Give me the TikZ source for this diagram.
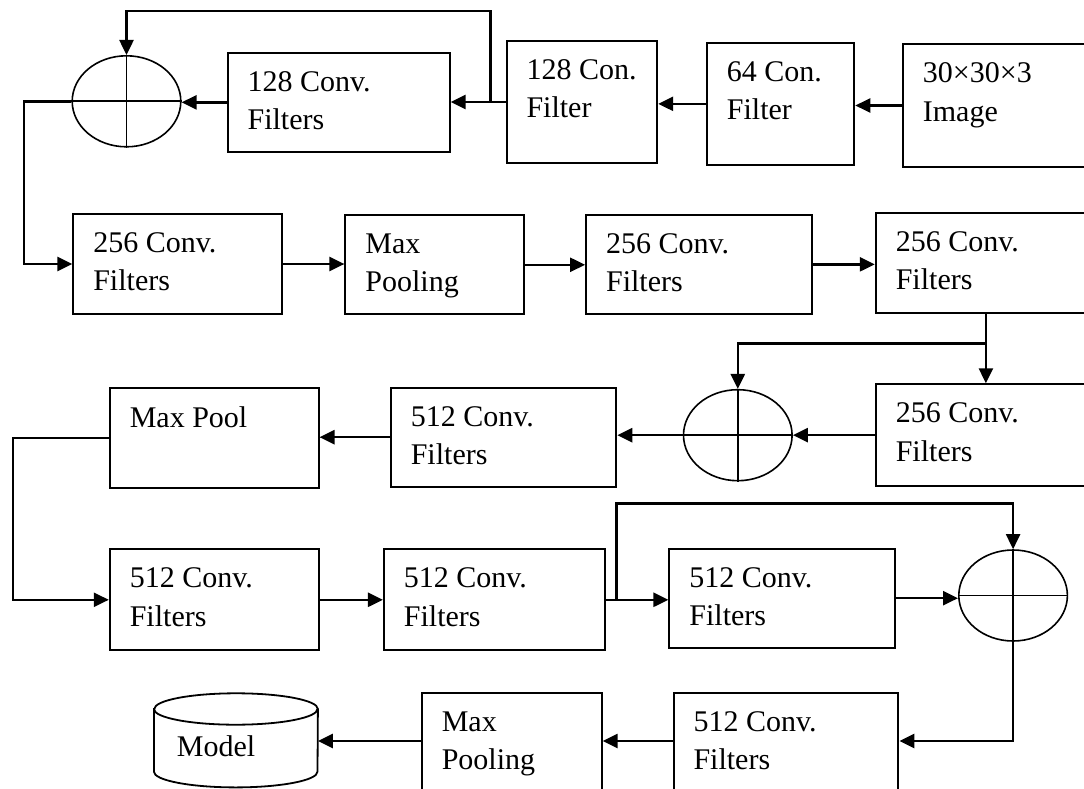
\documentclass[tikz,border=0pt]{standalone}
\usepackage{fontspec}
\setmainfont{Liberation Serif}
\usetikzlibrary{arrows.meta,shapes.geometric,calc}
\newcommand\btx[3]{\parbox[c][#2pt][t]{#1pt}{\raggedright\leftskip=20pt\relax\vspace*{18.5pt}#3}}
\begin{document}
\begin{tikzpicture}[x=1pt,y=-1pt,
  box/.style={draw, line width=2pt, inner sep=0pt, anchor=north west, font=\fontsize{30}{38.5}\selectfont},
  sum/.style={draw, ellipse, line width=1.6pt, inner sep=0pt, minimum width=108.6pt, minimum height=91pt},
  cross/.style={line width=1.6pt},
  arr/.style={line width=2.5pt, -{Triangle[length=15pt,width=14pt]}},
  cyl/.style={line width=1.8pt}]
\useasboundingbox (0,0) rectangle (1084,789);
\clip (0,0) rectangle (1084,789);
\fill[white] (0,0) rectangle (1084,789);

% row 1
\node[box] (A) at (226.6,51.7) {\btx{222.1}{99.3}{128 Conv.\\Filters}};
\node[box] (B) at (505.5,39.7) {\btx{150.7}{122.6}{128 Con.\\Filter}};
\node[box] (C) at (705.9,41.7) {\btx{147.4}{122.3}{64 Con.\\Filter}};
\node[box] (D) at (901.9,43.3) {\btx{230}{122.4}{30×30×3\\Image}};
\node[sum] (c1) at (126.5,101.3) {};
% row 2
\node[box] (E) at (72.3,212.7) {\btx{209}{100.6}{256 Conv.\\Filters}};
\node[box] (F) at (344.4,214.3) {\btx{179}{99}{Max\\Pooling}};
\node[box] (G) at (585.1,214) {\btx{225.5}{98.7}{256 Conv.\\Filters}};
\node[box] (H) at (874.8,211.7) {\btx{230}{100.6}{256 Conv.\\Filters}};
% row 3
\node[box] (I) at (874.8,383.3) {\btx{230}{101.7}{256 Conv.\\Filters}};
\node[sum] (c2) at (737.8,435.2) {};
\node[box] (L) at (389.8,386.7) {\btx{225.5}{99}{512 Conv.\\Filters}};
\node[box] (M) at (108.8,386.7) {\btx{208.7}{100.6}{Max Pool}};
% row 4
\node[box] (N) at (108.8,548.3) {\btx{208.7}{101}{512 Conv.\\Filters}};
\node[box] (O) at (382.9,548.3) {\btx{220.6}{101}{512 Conv.\\Filters}};
\node[box] (Q) at (668.4,547.7) {\btx{225.5}{99}{512 Conv.\\Filters}};
\node[sum] (c3) at (1013.1,595.5) {};
% row 5
\node[box] (R) at (672.5,691.7) {\btx{224.9}{140}{512 Conv.\\Filters}};
\node[box] (P) at (420.8,692.3) {\btx{179.9}{140}{Max\\Pooling}};
\node[inner sep=0pt, anchor=north west, font=\fontsize{30}{38.5}\selectfont] (model) at (153.9,693.3)
  {\parbox[c][93.7pt][t]{163.6pt}{\leftskip=22.8pt\relax\vspace*{42.5pt}Model}};

% circle crosses
\foreach \c in {c1,c2,c3}{
  \draw[cross] (\c.north) -- (\c.south) (\c.west) -- (\c.east);
}
% cylinder
\draw[cyl] ([yshift=-15.7pt]model.north west) -- ([yshift=15.7pt]model.south west)
  arc[start angle=180,end angle=360,x radius=81.8pt,y radius=15.7pt]
  -- ([yshift=-15.7pt]model.north east)
  arc[start angle=0,end angle=180,x radius=81.8pt,y radius=15.7pt] -- cycle;
\draw[cyl] ([yshift=-15.7pt]model.north west) arc[start angle=180,end angle=360,x radius=81.8pt,y radius=15.7pt];

% connectors
\coordinate (t1) at (490.7,11);
\draw[arr] (D.west) -- (D.west -| C.east);
\draw[arr] (C.west) -- (C.west -| B.east);
\draw[arr] (B.west) -- (B.west -| A.east);
\draw[arr] (B.west -| t1) -- (t1) -| (c1.north);
\draw[arr] (A.west) -- (A.west -| c1.east);
\coordinate (k1) at (24.1,0);
\draw[arr] (c1.west) -- (c1.west -| k1) |- (E.west);
\draw[arr] (E.east) -- (E.east -| F.west);
\draw[arr] (F.east) -- (F.east -| G.west);
\draw[arr] (G.east) -- (G.east -| H.west);
\coordinate (k2) at (985.9,343.3);
\draw[arr] (H.south -| k2) -- (I.north -| k2);
\draw[arr] (k2) -| (c2.north);
\draw[arr] (I.west) -- (I.west -| c2.east);
\draw[arr] (c2.west) -- (c2.west -| L.east);
\draw[arr] (L.west) -- (L.west -| M.east);
\coordinate (k3) at (13.1,0);
\draw[arr] (M.west) -- (M.west -| k3) |- (N.west);
\draw[arr] (N.east) -- (N.east -| O.west);
\draw[arr] (O.east) -- (O.east -| Q.west);
\coordinate (k4) at (616.3,503.3);
\draw[arr] (O.east -| k4) -- (k4) -| (c3.north);
\draw[arr] (Q.east) -- (Q.east -| c3.west);
\coordinate (k5) at (0,741);
\draw[arr] (c3.south) -- (c3.south |- k5) -- (k5 -| R.east);
\draw[arr] (k5 -| R.west) -- (k5 -| P.east);
\draw[arr] (k5 -| P.west) -- (k5 -| model.east);
\end{tikzpicture}
\end{document}
